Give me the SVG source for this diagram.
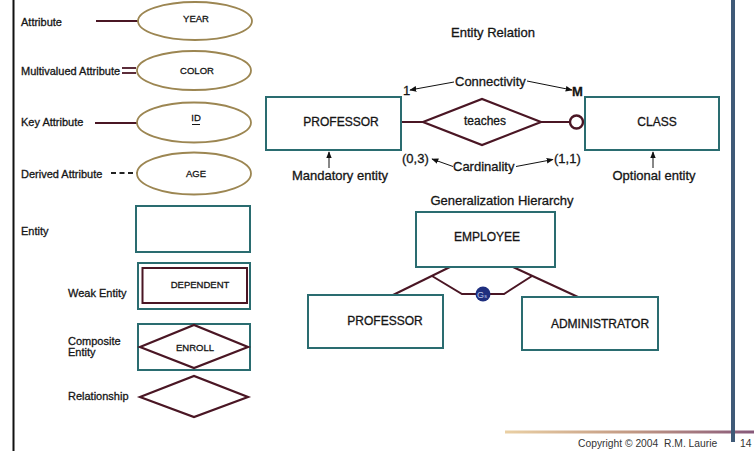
<svg xmlns="http://www.w3.org/2000/svg" width="754" height="451" viewBox="0 0 754 451">
<style>
text{font-family:"Liberation Sans",Arial,Helvetica,sans-serif;fill:#151515;stroke:#151515;stroke-width:0.3}
.lg{font-size:11px}
.nl{font-size:9.5px}
.el{font-size:12px}
.an{font-size:13px}
.ft{font-size:10.3px;fill:#333;stroke:none}
.ell{fill:#fff;stroke:#9c8652;stroke-width:1.8}
.ent{fill:#fff;stroke:#2a6c70;stroke-width:2}
.rel{fill:#fff;stroke:#4a1624;stroke-width:2.2}
.ln{stroke:#4a1624;stroke-width:2;fill:none}
.ar{stroke:#111;stroke-width:1;fill:none;marker-end:url(#ah)}
.mid{text-anchor:middle}
</style>
<defs>
<marker id="ah" viewBox="0 0 10 10" refX="9" refY="5" markerWidth="7" markerHeight="7" orient="auto" markerUnits="userSpaceOnUse">
<path d="M0,1 L10,5 L0,9 Z" fill="#111"/>
</marker>
<linearGradient id="fg" x1="0" y1="0" x2="1" y2="0">
<stop offset="0" stop-color="#ead0a4"/>
<stop offset="0.5" stop-color="#c39a84"/>
<stop offset="1" stop-color="#87587a"/>
</linearGradient>
</defs>
<rect width="754" height="451" fill="#fff"/>
<!-- frame -->
<line x1="13.5" y1="0" x2="13.5" y2="451" stroke="#111" stroke-width="2"/>
<rect x="505" y="430.5" width="249" height="3" fill="url(#fg)"/>
<rect x="731" y="0" width="4" height="442" fill="#3f5a78"/>

<!-- legend connectors -->
<g id="legend-connectors">
<line x1="96" y1="21" x2="138" y2="21" stroke="#4a1624" stroke-width="1.8"/>
<line x1="122" y1="68" x2="136" y2="68" stroke="#4a1624" stroke-width="1.8"/>
<line x1="122" y1="73" x2="136" y2="73" stroke="#4a1624" stroke-width="1.8"/>
<line x1="95" y1="123" x2="138" y2="123" stroke="#4a1624" stroke-width="1.8"/>
<line x1="111" y1="173" x2="137" y2="173" stroke="#222" stroke-width="1.8" stroke-dasharray="5,3.5"/>
</g>

<g id="legend-attribute">
<text class="lg" x="21" y="26">Attribute</text>
<ellipse class="ell" cx="195" cy="21" rx="57" ry="19"/>
<text class="nl mid" x="196" y="21.5">YEAR</text>
</g>
<g id="legend-multivalued">
<text class="lg" x="21" y="75">Multivalued Attribute</text>
<ellipse class="ell" cx="194" cy="70.5" rx="57" ry="19.5"/>
<text class="nl mid" x="197" y="74">COLOR</text>
</g>
<g id="legend-key">
<text class="lg" x="21" y="126">Key Attribute</text>
<ellipse class="ell" cx="194" cy="122.5" rx="57" ry="20"/>
<text class="nl mid" x="196" y="121">ID</text>
<line x1="192" y1="124.5" x2="200" y2="124.5" stroke="#151515" stroke-width="1"/>
</g>
<g id="legend-derived">
<text class="lg" x="21" y="178">Derived Attribute</text>
<ellipse class="ell" cx="194" cy="173.5" rx="57" ry="21"/>
<text class="nl mid" x="196" y="177">AGE</text>
</g>
<g id="legend-entity">
<text class="lg" x="21" y="235">Entity</text>
<rect class="ent" x="136" y="206" width="114" height="46"/>
</g>
<g id="legend-weak">
<text class="lg" x="68" y="297">Weak Entity</text>
<rect class="ent" x="138" y="263" width="112" height="46"/>
<rect x="142.5" y="268" width="104.5" height="35" fill="none" stroke="#4a1624" stroke-width="2"/>
<text class="nl mid" x="200" y="288">DEPENDENT</text>
</g>
<g id="legend-composite">
<text class="lg" x="68" y="345">Composite</text>
<text class="lg" x="68" y="356">Entity</text>
<rect class="ent" x="138" y="324" width="112" height="46"/>
<polygon class="rel" points="140,347 194,325 248,347 194,368" fill="none"/>
<text class="nl mid" x="195" y="351">ENROLL</text>
</g>
<g id="legend-relationship">
<text class="lg" x="68" y="400">Relationship</text>
<polygon class="rel" points="140,397 194,376 248,397 194,417"/>
</g>

<!-- ER diagram -->
<g id="er-connectors">
<line class="ln" x1="401" y1="122" x2="423" y2="122" stroke-width="2.5"/>
<line class="ln" x1="541" y1="122" x2="570" y2="122" stroke-width="2.5"/>
<line class="ar" x1="454" y1="82" x2="410" y2="90"/>
<line class="ar" x1="527" y1="81" x2="572" y2="90"/>
<line class="ar" x1="453" y1="166.5" x2="432" y2="159"/>
<line class="ar" x1="516" y1="166.5" x2="553" y2="159.5"/>
<line class="ar" x1="329" y1="168" x2="329" y2="152"/>
<line class="ar" x1="653" y1="168" x2="653" y2="152"/>
</g>
<text class="an mid" x="493" y="37">Entity Relation</text>
<text class="an" x="455" y="86">Connectivity</text>
<text class="an" x="403" y="95">1</text>
<text class="an" x="572" y="96" font-weight="bold">M</text>
<text class="an" x="402" y="163">(0,3)</text>
<text class="an" x="453" y="171">Cardinality</text>
<text class="an" x="554" y="163">(1,1)</text>
<g id="er-professor">
<rect class="ent" x="266" y="97" width="135" height="53"/>
<text class="el mid" x="341" y="126">PROFESSOR</text>
<text class="an mid" x="340" y="180">Mandatory entity</text>
</g>
<g id="er-teaches">
<polygon class="rel" points="423,122 482,99 541,122 482,145" stroke-width="2.6"/>
<text class="el mid" x="485" y="125">teaches</text>
</g>
<g id="er-optional-circle">
<circle cx="576.5" cy="122" r="6.5" fill="#fff" stroke="#4a1624" stroke-width="2.4"/>
</g>
<g id="er-class">
<rect class="ent" x="585" y="97" width="134" height="53"/>
<text class="el mid" x="657" y="126">CLASS</text>
<text class="an mid" x="654" y="180">Optional entity</text>
</g>

<!-- Generalization -->
<text class="an mid" x="502" y="205">Generalization Hierarchy</text>
<g id="gen-connectors">
<line class="ln" x1="450" y1="267" x2="393" y2="295" stroke-width="2.5"/>
<line class="ln" x1="513" y1="267" x2="578" y2="297" stroke-width="2.5"/>
<polyline class="ln" points="432,276 462,294 504,294 532,276" stroke-width="2.5"/>
</g>
<g id="gen-employee">
<rect class="ent" x="416" y="212" width="139" height="55"/>
<text class="el mid" x="487" y="241">EMPLOYEE</text>
</g>
<g id="gen-g">
<circle cx="483" cy="294" r="7.5" fill="#1f2f7f"/>
<text x="482" y="297.5" font-size="9" class="mid" style="fill:#b8c4e8;stroke:none">G<tspan font-size="5.5">s</tspan></text>
</g>
<g id="gen-professor">
<rect class="ent" x="308" y="295" width="135" height="53"/>
<text class="el mid" x="385" y="325">PROFESSOR</text>
</g>
<g id="gen-administrator">
<rect class="ent" x="522" y="297" width="136" height="53"/>
<text class="el mid" x="600" y="328">ADMINISTRATOR</text>
</g>

<!-- footer -->
<text class="ft" x="578" y="447" xml:space="preserve">Copyright © 2004  R.M. Laurie</text>
<text class="ft" x="740" y="447">14</text>
</svg>
